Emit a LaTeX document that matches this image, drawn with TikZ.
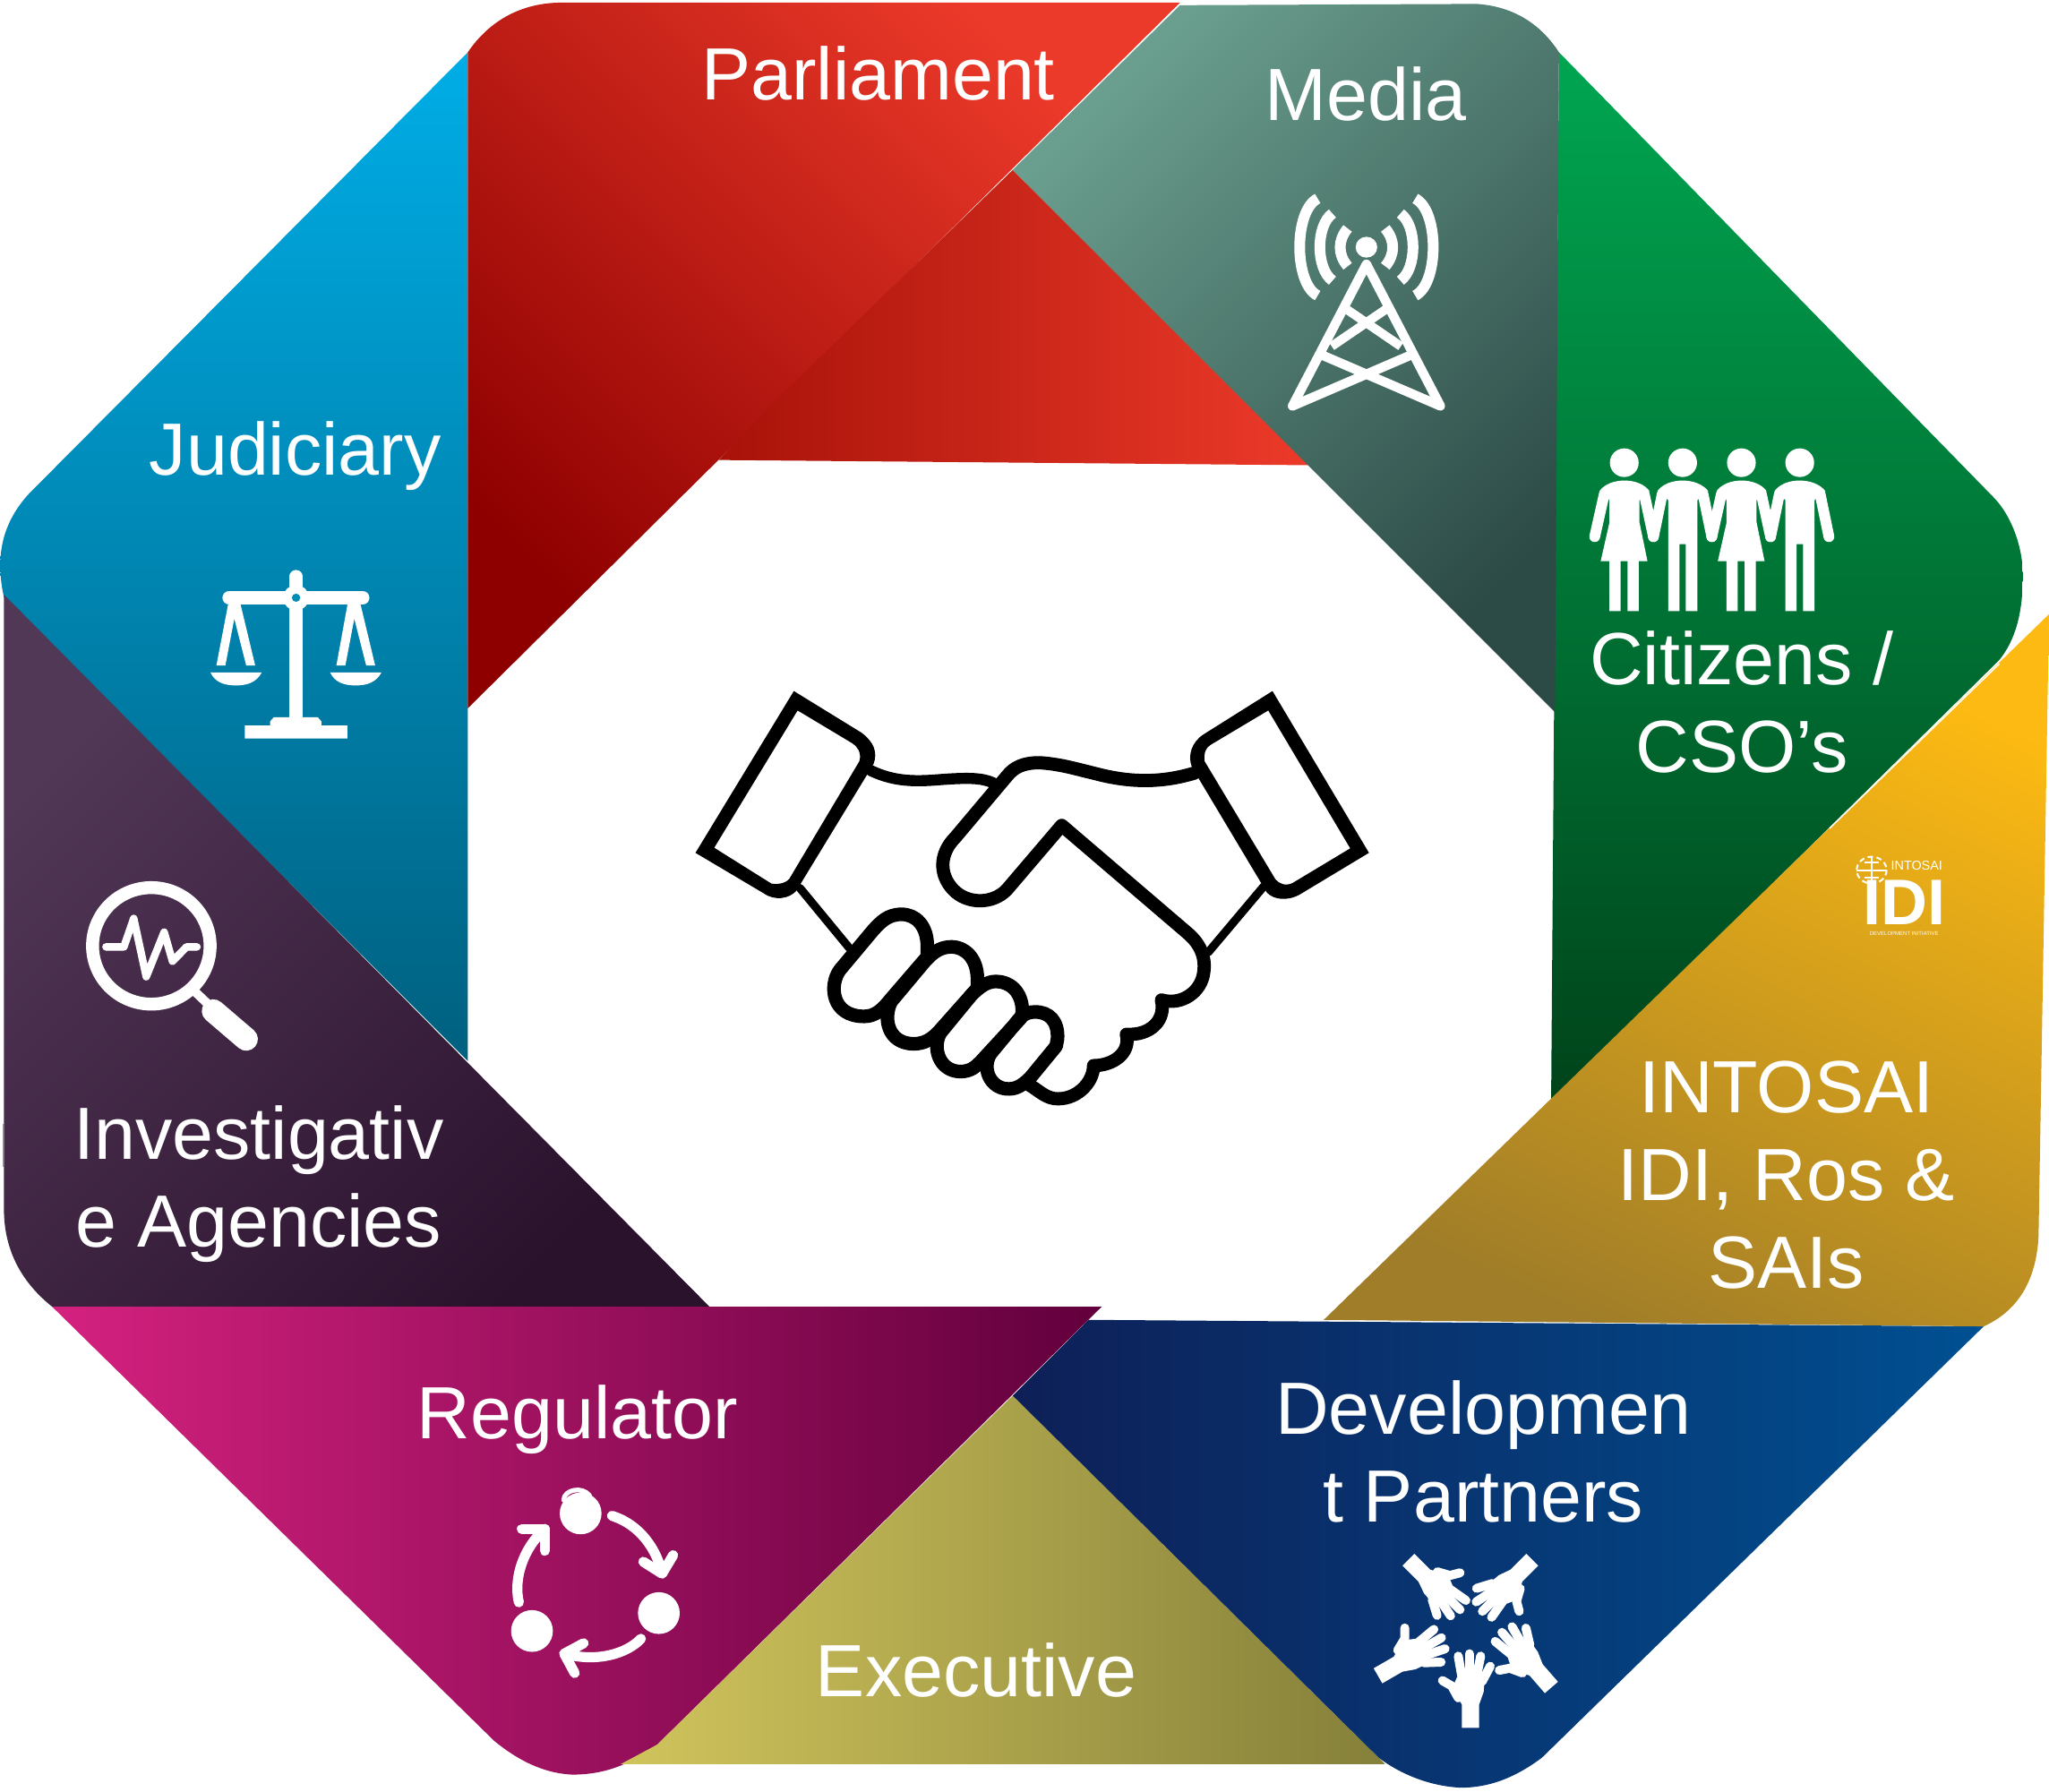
\documentclass[tikz,border=0pt]{standalone}
\usepackage{fontspec}
\setmainfont{Liberation Sans}
\newfontfamily\logofont{Liberation Sans}
\definecolor{jTop}{HTML}{00ADE6}
\definecolor{jBot}{HTML}{00607F}
\definecolor{iTop}{HTML}{523857}
\definecolor{iBot}{HTML}{2A112C}
\definecolor{rL}{HTML}{D4217F}
\definecolor{rR}{HTML}{62003C}
\definecolor{eL}{HTML}{D0C45C}
\definecolor{eR}{HTML}{85803A}
\definecolor{dL}{HTML}{0E1F57}
\definecolor{dR}{HTML}{005092}
\definecolor{gTR}{HTML}{FDBA12}
\definecolor{gBL}{HTML}{A07D28}
\definecolor{cTop}{HTML}{00A651}
\definecolor{cBot}{HTML}{00431A}
\definecolor{mTL}{HTML}{6A9E8E}
\definecolor{mBR}{HTML}{2C4A46}
\definecolor{pBL}{HTML}{8E0000}
\definecolor{pTR}{HTML}{EC3A2A}
\definecolor{tL}{HTML}{A81209}
\definecolor{jHole}{HTML}{008DB6}
\tikzset{
  lab/.style={text=white,font=\fontsize{41.3}{48.9}\selectfont,align=center,inner sep=0pt},
  ico/.style={line width=#1,draw=white,line cap=butt,line join=miter},
  icr/.style={line width=#1,draw=white,line cap=round,line join=round},
  hs/.style={line width=#1,draw=black,line join=round,line cap=round}
}
\begin{document}
\begin{tikzpicture}[x=0.7296pt,y=-0.7296pt]
\useasboundingbox (0,0) rectangle (1568,1371.3);
% Judiciary
\path[top color=jTop,bottom color=jBot] (358,40) -- (358,812) -- (3,457) .. controls (-4,425) and (2,400) .. (22,378) -- cycle;
% sliver at the left edge
\fill[red!70!orange!70!white] (1.8,860) rectangle (2.9,893);
% Investigative
\path[left color=iTop,right color=iBot,shading angle=45] (3,455) -- (543,1000) -- (40,1000) .. controls (15,980) and (3,955) .. (3,925) -- cycle;
% Regulator
\path[left color=rL,right color=rR] (40,1000) -- (843,1000) -- (503,1335) .. controls (480,1352) and (460,1358) .. (438,1358) .. controls (415,1357) and (395,1346) .. (378,1332) -- cycle;
% Executive
\path[left color=eL,right color=eR] (775,1068) -- (1060,1350) -- (475,1350) -- (503,1335) -- cycle;
% Development partners
\path[left color=dL,right color=dR] (833,1010) -- (1518,1015) -- (1180,1345) .. controls (1160,1360) and (1140,1368) .. (1118,1368) .. controls (1095,1367) and (1072,1358) .. (1055,1345) -- (775,1068) -- cycle;
% Citizens
\path[top color=cTop,bottom color=cBot] (1193,40) -- (1525,380) .. controls (1540,395) and (1548,420) .. (1548,440) .. controls (1548,470) and (1542,490) .. (1530,505) -- (1187,843) -- cycle;
% INTOSAI
\path[left color=gBL,right color=gTR,shading angle=155] (1568,470) -- (1560,946) .. controls (1558,985) and (1540,1005) .. (1518,1015) -- (1013,1010) -- cycle;
\draw[white,line width=0.7pt] (1530,508) -- (1400,634);
% Parliament
\path[left color=pBL,right color=pTR,shading angle=135] (358,40) .. controls (375,15) and (400,2) .. (430,2) -- (903,2) -- (358,542) -- cycle;
\path[left color=tL,right color=pTR] (775,130) -- (1002,356) -- (550,352) -- (590,310) -- cycle;
% Media
\path[left color=mTL,right color=mBR,shading angle=45] (903,4) -- (1130,3) .. controls (1160,5) and (1180,20) .. (1193,40) -- (1190,545) -- (775,130) -- cycle;

% labels
\node[lab] (parl) at (672,56) {Parliament};
\node[lab] (media) at (1045,72) {Media};
\node[lab] (citi) at (1333,537) {Citizens /\\CSO’s};
\node[lab] (judi) at (226,349) {Judiciary};
\node[lab] (inv) at (198,906) {Investigativ\\e Agencies};
\node[lab] (regu) at (442,1086) {Regulator};
\node[lab] (exec) at (747,1278) {Executive};
\node[lab] (dev) at (1135,1111) {Developmen\\t Partners};
\node[lab] (into) at (1367,899) {INTOSAI\\IDI, Ros \&\\SAIs};

% handshake
\begin{scope}[shift={(507.13,507.13)},xscale=0.3584,yscale=0.2284]
\fill[black,even odd rule] (280,95) -- (425,235) .. controls (450,265) and (460,300) .. (450,340) -- (285,765) .. controls (270,790) and (240,800) .. (215,772) -- (70,637) -- cycle
 (288,160) -- (110,620) -- (232,740) .. controls (250,745) and (265,735) .. (270,725) -- (420,330) .. controls (425,300) and (415,280) .. (405,270) -- cycle;
\fill[black,even odd rule] (1302,95) -- (1508,637) -- (1362,775) .. controls (1335,800) and (1305,795) .. (1290,770) -- (1130,350) .. controls (1120,310) and (1130,265) .. (1155,240) -- cycle
 (1293,160) -- (1468,622) -- (1345,738) .. controls (1330,750) and (1315,740) .. (1308,725) -- (1157,330) .. controls (1155,300) and (1160,285) .. (1170,275) -- cycle;
\draw[hs=4.6pt] (293,755) -- (398,955);
\draw[hs=4.6pt] (1283,750) -- (1165,970);
\draw[hs=6.2pt] (445,362) .. controls (490,395) and (530,400) .. (590,392) .. controls (650,385) and (680,385) .. (705,402);
\draw[hs=7.4pt] (1135,370) .. controls (1050,410) and (980,395) .. (920,370) .. controls (880,355) and (850,340) .. (805,335) .. controls (770,335) and (750,350) .. (735,380) -- (625,585) .. controls (590,640) and (590,710) .. (620,760) .. controls (650,810) and (705,810) .. (735,760) -- (852,545) -- (1120,905) .. controls (1150,945) and (1160,990) .. (1155,1040) .. controls (1150,1100) and (1110,1150) .. (1065,1130) .. controls (1075,1200) and (1040,1250) .. (990,1245) .. controls (1000,1310) and (960,1350) .. (920,1350) .. controls (920,1410) and (880,1470) .. (835,1460) .. controls (815,1455) and (800,1430) .. (783,1415);
\draw[hs=7.6pt] (565,950) .. controls (565,880) and (540,843) .. (510,843) .. controls (480,843) and (465,870) .. (450,895) -- (378,1030) .. controls (355,1080) and (360,1185) .. (430,1185) .. controls (455,1185) and (470,1160) .. (487,1127) -- (565,985) -- cycle;
\draw[hs=7.6pt] (672,1060) .. controls (672,990) and (645,952) .. (617,952) .. controls (590,952) and (575,975) .. (560,1000) -- (488,1135) .. controls (470,1190) and (480,1275) .. (535,1277) .. controls (560,1277) and (575,1260) .. (590,1235) -- (672,1090) -- cycle;
\draw[hs=7.6pt] (768,1170) .. controls (768,1100) and (740,1068) .. (712,1068) .. controls (690,1068) and (675,1090) .. (660,1112) -- (593,1240) .. controls (575,1290) and (590,1368) .. (635,1370) .. controls (660,1370) and (670,1350) .. (680,1335) -- (765,1190) -- cycle;
\draw[hs=7.6pt] (843,1260) .. controls (845,1200) and (825,1170) .. (795,1170) .. controls (770,1170) and (760,1195) .. (750,1215) -- (700,1310) .. controls (680,1360) and (700,1430) .. (740,1428) .. controls (760,1428) and (775,1405) .. (785,1390) -- (840,1285) -- cycle;
\end{scope}

% tower and people
\begin{scope}[shift={(959.4,123.4)},xscale=0.3059,yscale=0.2284]
\fill[white] (282,288) ellipse [x radius=27,y radius=35];
\draw[icr=5.2pt] (97,820) -- (282,345) -- (467,820) -- (172,650);
\draw[icr=5.2pt] (97,820) -- (392,650);
\draw[ico=5pt] (195,620) -- (335,492) (368,620) -- (228,492);
\foreach \a/\b/\c/\d in {235/210/210/235, 197/155/155/197, 160/100/100/160}{
  \pgfmathsetmacro\ya{\a==235?225:(\a==197?175:125)}
  \pgfmathsetmacro\yb{\a==235?352:(\a==197?400:450)}
  \draw[ico=6pt] (\a,\ya) .. controls (\b,\ya+40) and (\b,\yb-40) .. (\a,\yb);
  \draw[ico=6pt] (564-\a,\ya) .. controls (564-\b,\ya+40) and (564-\b,\yb-40) .. (564-\a,\yb);
}
% women
\foreach \c in {927,1220}{
 \fill[white] (\c,1010) ellipse [x radius=36,y radius=48];
 \fill[white] (\c-62,1105) .. controls (\c-37,1058) and (\c+38,1058) .. (\c+63,1105) -- (\c+38,1135) -- (\c+38,1210) -- (\c+58,1340) -- (\c+36,1340) -- (\c+36,1507) -- (\c+8,1507) -- (\c+8,1340) -- (\c-9,1340) -- (\c-9,1507) -- (\c-37,1507) -- (\c-37,1340) -- (\c-59,1340) -- (\c-37,1210) -- (\c-37,1135) -- cycle;
 \draw[icr=6pt] (\c-50,1115) -- (\c-74,1258);
 \draw[icr=6pt] (\c+50,1115) -- (\c+73,1258);
}
% men
\foreach \c in {1073,1366}{
 \fill[white] (\c,1010) ellipse [x radius=36,y radius=48];
 \fill[white] (\c-63,1105) .. controls (\c-38,1058) and (\c+37,1058) .. (\c+64,1105) -- (\c+37,1135) -- (\c+37,1507) -- (\c+8,1507) -- (\c+8,1283) -- (\c-8,1283) -- (\c-8,1507) -- (\c-36,1507) -- (\c-36,1135) -- cycle;
 \draw[icr=6pt] (\c-51,1115) -- (\c-73,1258);
 \draw[icr=6pt] (\c+51,1115) -- (\c+73,1258);
}
\end{scope}

% scales and magnifier
\begin{scope}[shift={(41.12,424.9)},xscale=0.2284,yscale=0.2622]
\draw[icr=7.3pt] (812,62) -- (812,300);
\draw[ico=7.3pt] (812,300) -- (812,480);
\draw[icr=7.6pt] (588,124) -- (1035,124);
\fill[white] (812,124) ellipse [x radius=42,y radius=38];
\fill[jHole] (812,124) ellipse [x radius=14,y radius=12];
\fill[white] (585,140) -- (545,322) -- (575,322) -- (605,185) -- (645,322) -- (675,322) -- (625,140) -- cycle;
\fill[white] (985,140) -- (947,322) -- (977,322) -- (1007,185) -- (1047,322) -- (1077,322) -- (1027,140) -- cycle;
\fill[white] (525,342) -- (697,342) .. controls (680,370) and (650,380) .. (611,380) .. controls (570,380) and (540,370) .. (525,342) -- cycle;
\fill[white] (926,342) -- (1098,342) .. controls (1081,370) and (1051,380) .. (1012,380) .. controls (971,380) and (941,370) .. (926,342) -- cycle;
\fill[white] (640,497) -- (725,497) -- (725,485) -- (737,473) -- (885,473) -- (897,485) -- (897,497) -- (984,497) -- (984,535) -- (640,535) -- cycle;
\draw[ico=7.2pt] (327,1140) ellipse [x radius=197,y radius=170];
\draw[icr=4.2pt] (175,1143) -- (235,1143) -- (268,1060) -- (310,1230) -- (370,1100) -- (398,1185) -- (445,1143) -- (480,1143);
\draw[ico=5pt] (475,1275) -- (535,1325);
\draw[icr=13pt] (535,1330) -- (645,1412);
\end{scope}

% hands
\begin{scope}[shift={(1014.3,1165)},scale=0.2284]
\foreach \x/\y/\r/\s in {486/688/0/1, 757/553/41/1, 176/514/-60/1, 278/125/-135/0.97, 693/125/135/0.97}{
\begin{scope}[shift={(\x,\y)},rotate=\r,scale=\s]
 \fill[white] (-29,0) -- (-29,-78) -- (-61,-133) -- (-45,-170) -- (48,-170) -- (44,-120) -- (29,-78) -- (29,0) -- cycle;
 \draw[icr=5pt] (-41,-240) -- (-28,-165);
 \draw[icr=5pt] (-4,-248) -- (-4,-165);
 \draw[icr=5pt] (34,-240) -- (19,-165);
 \draw[icr=5pt] (66,-206) -- (39,-155);
 \draw[icr=5pt] (-94,-158) -- (-63,-140) -- (-41,-100);
\end{scope}
}
\end{scope}

% cycle
\begin{scope}[shift={(370.1,1117)},scale=0.2284]
\fill[white] (325,180) circle [radius=70] (587,514) circle [radius=70] (162,574) circle [radius=70];
\draw[icr=2.6pt] (268,135) .. controls (270,100) and (330,88) .. (355,120);
\draw[icr=5.6pt] (430,188) .. controls (500,210) and (570,270) .. (598,380);
\draw[icr=5.6pt] (535,342) -- (598,382) -- (635,320);
\draw[icr=5.6pt] (527,600) .. controls (480,650) and (380,680) .. (270,650);
\draw[icr=5.6pt] (335,615) -- (270,650) -- (305,715);
\draw[icr=5.6pt] (118,478) .. controls (100,400) and (130,300) .. (205,232);
\draw[icr=5.6pt] (128,232) -- (205,232) -- (205,305);
\end{scope}

% IDI logo
\begin{scope}[shift={(1398,637.3)},scale=0.2284]
\draw[white,line width=1pt,densely dashed] (150,125) ellipse [x radius=50,y radius=45];
\draw[white,line width=1pt] (100,125) -- (200,125) (150,80) -- (150,170) (125,100) -- (175,100) (125,150) -- (175,150);
\node[text=white,inner sep=0pt,font=\logofont\fontsize{7.2}{8}\selectfont] (intosai) at (301,110) {INTOSAI};
\node[text=white,inner sep=0pt,font=\logofont\bfseries\fontsize{36}{36}\selectfont] (idi) at (260,232) {IDI};
\node[text=white,inner sep=0pt,font=\logofont\fontsize{3}{4}\selectfont] (idisub) at (259,338) {DEVELOPMENT INITIATIVE};
\end{scope}
\end{tikzpicture}
\end{document}
